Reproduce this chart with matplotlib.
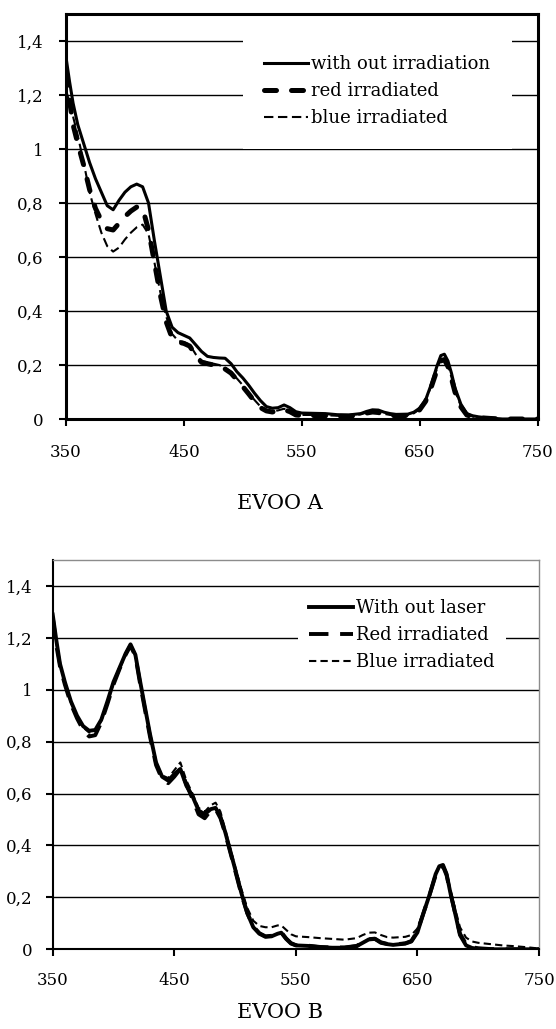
import matplotlib
matplotlib.use("Agg")
import matplotlib.pyplot as plt

plt.rcParams['font.family'] = ['DejaVu Serif']

# EVOO A spectra (absorbance vs wavelength, nm)
wl_a = [350, 353, 356, 360, 365, 370, 375, 380, 385, 390, 395, 400, 405, 410, 415,
        420, 425, 430, 435, 440, 445, 450, 455, 460, 465, 470, 475, 480, 485, 490,
        495, 500, 505, 510, 515, 520, 525, 530, 535, 540, 545, 550, 560, 570, 580,
        590, 600, 605, 610, 615, 620, 625, 630, 640, 645, 650, 655, 660, 665, 668,
        671, 674, 677, 680, 685, 690, 695, 700, 710, 720, 750]
a_none = [1.34, 1.25, 1.17, 1.09, 1.02, 0.95, 0.89, 0.84, 0.79, 0.775, 0.81, 0.84, 0.86, 0.87, 0.86,
          0.80, 0.66, 0.53, 0.40, 0.34, 0.32, 0.31, 0.30, 0.275, 0.25, 0.232, 0.228, 0.226, 0.225, 0.205,
          0.175, 0.152, 0.125, 0.095, 0.068, 0.046, 0.040, 0.042, 0.052, 0.042, 0.027, 0.022, 0.021, 0.020, 0.016,
          0.015, 0.020, 0.028, 0.034, 0.033, 0.025, 0.020, 0.017, 0.018, 0.025, 0.040, 0.070, 0.13, 0.20, 0.235,
          0.24, 0.215, 0.17, 0.115, 0.055, 0.020, 0.012, 0.008, 0.003, 0.0, 0.0]
a_red = [1.28, 1.18, 1.09, 1.02, 0.94, 0.85, 0.78, 0.735, 0.705, 0.70, 0.725, 0.75, 0.77, 0.785, 0.78,
         0.70, 0.58, 0.46, 0.36, 0.30, 0.285, 0.28, 0.27, 0.235, 0.21, 0.205, 0.20, 0.198, 0.185, 0.17,
         0.145, 0.12, 0.093, 0.065, 0.042, 0.030, 0.026, 0.030, 0.035, 0.027, 0.015, 0.013, 0.013, 0.012, 0.010,
         0.010, 0.015, 0.022, 0.026, 0.024, 0.017, 0.014, 0.012, 0.013, 0.020, 0.034, 0.065, 0.12, 0.185, 0.215,
         0.22, 0.195, 0.15, 0.10, 0.045, 0.015, 0.008, 0.005, 0.002, 0.0, 0.0]
a_blue = [1.22, 1.17, 1.12, 1.05, 0.95, 0.84, 0.76, 0.69, 0.64, 0.62, 0.635, 0.665, 0.69, 0.71, 0.72,
          0.685, 0.58, 0.47, 0.38, 0.315, 0.29, 0.285, 0.275, 0.24, 0.215, 0.21, 0.205, 0.20, 0.19, 0.175,
          0.15, 0.125, 0.097, 0.07, 0.046, 0.033, 0.028, 0.032, 0.038, 0.030, 0.017, 0.015, 0.015, 0.014, 0.012,
          0.012, 0.017, 0.024, 0.028, 0.026, 0.019, 0.015, 0.013, 0.014, 0.021, 0.036, 0.067, 0.125, 0.19, 0.22,
          0.225, 0.20, 0.155, 0.105, 0.048, 0.017, 0.009, 0.006, 0.002, 0.0, 0.0]

# EVOO B spectra
wl_b = [350, 353, 356, 360, 365, 370, 375, 380, 385, 390, 395, 400, 405, 410, 414,
        418, 422, 426, 430, 435, 440, 445, 450, 455, 460, 465, 470, 475, 480, 484,
        488, 492, 496, 500, 505, 510, 515, 520, 525, 530, 535, 538, 542, 546, 550,
        560, 570, 580, 590, 600, 605, 610, 615, 620, 625, 630, 640, 645, 650, 655,
        660, 665, 668, 671, 674, 677, 680, 685, 690, 695, 700, 710, 720, 730, 740, 750]
b_none = [1.29, 1.19, 1.10, 1.03, 0.955, 0.90, 0.86, 0.842, 0.845, 0.885, 0.955, 1.03, 1.085, 1.14, 1.175,
          1.135, 1.03, 0.93, 0.83, 0.72, 0.665, 0.65, 0.675, 0.695, 0.63, 0.59, 0.535, 0.52, 0.54, 0.545,
          0.51, 0.45, 0.38, 0.31, 0.22, 0.14, 0.085, 0.06, 0.048, 0.05, 0.06, 0.064, 0.04, 0.022, 0.015,
          0.013, 0.008, 0.006, 0.006, 0.012, 0.025, 0.038, 0.04, 0.025, 0.02, 0.017, 0.022, 0.03, 0.065, 0.14,
          0.21, 0.29, 0.32, 0.325, 0.29, 0.22, 0.16, 0.055, 0.015, 0.005, 0.002, 0.0, 0.0, 0.0, 0.0, 0.0]
b_red = [1.28, 1.17, 1.09, 1.02, 0.945, 0.89, 0.845, 0.82, 0.825, 0.875, 0.945, 1.02, 1.08, 1.135, 1.17,
         1.13, 1.02, 0.92, 0.82, 0.71, 0.655, 0.64, 0.665, 0.695, 0.635, 0.58, 0.52, 0.505, 0.535, 0.54,
         0.505, 0.445, 0.375, 0.305, 0.215, 0.14, 0.088, 0.062, 0.05, 0.052, 0.062, 0.066, 0.042, 0.024, 0.016,
         0.014, 0.009, 0.007, 0.007, 0.013, 0.026, 0.039, 0.041, 0.027, 0.021, 0.018, 0.023, 0.032, 0.07, 0.14,
         0.21, 0.285, 0.315, 0.32, 0.285, 0.22, 0.16, 0.06, 0.02, 0.008, 0.004, 0.001, 0.0, 0.0, 0.0, 0.0]
b_blue = [1.27, 1.18, 1.10, 1.03, 0.95, 0.895, 0.855, 0.835, 0.84, 0.88, 0.95, 1.025, 1.08, 1.135, 1.17,
          1.13, 1.03, 0.93, 0.83, 0.72, 0.67, 0.66, 0.69, 0.72, 0.65, 0.60, 0.545, 0.53, 0.555, 0.565,
          0.53, 0.46, 0.39, 0.32, 0.235, 0.16, 0.11, 0.09, 0.085, 0.085, 0.092, 0.092, 0.075, 0.058, 0.05,
          0.047, 0.043, 0.04, 0.037, 0.043, 0.055, 0.064, 0.065, 0.055, 0.047, 0.045, 0.048, 0.055, 0.08, 0.145,
          0.215, 0.29, 0.32, 0.325, 0.295, 0.235, 0.175, 0.085, 0.045, 0.03, 0.025, 0.02, 0.015, 0.012, 0.008, 0.003]

x_ticks = [350, 450, 550, 650, 750]
x_labels = ["350", "450", "550", "650", "750"]
y_ticks = [0, 0.2, 0.4, 0.6, 0.8, 1.0, 1.2, 1.4]
y_labels = ["0", "0,2", "0,4", "0,6", "0,8", "1", "1,2", "1,4"]

labels_a = ["with out irradiation", "red irradiated", "blue irradiated"]
labels_b = ["With out laser", "Red irradiated", "Blue irradiated"]

W, H = 556, 1029
fig = plt.figure(figsize=(W / 100, H / 100), dpi=100)


def style_axes(ax, xpad, ypad):
    ax.set_xlim(350, 750)
    ax.set_ylim(0, 1.5)
    ax.set_xticks(x_ticks)
    ax.set_xticklabels(x_labels)
    ax.set_yticks(y_ticks)
    ax.set_yticklabels(y_labels)
    ax.yaxis.grid(True, color="black", linewidth=1.0)
    ax.set_axisbelow(True)
    ax.tick_params(axis="both", direction="out", length=5, width=1.5,
                   labelsize=12, color="black")
    ax.tick_params(axis="x", pad=xpad)
    ax.tick_params(axis="y", pad=ypad)


# ---- top panel: EVOO A ----
ax1 = fig.add_axes([66 / W, 1 - 419 / H, 471.5 / W, 405 / H])
style_axes(ax1, 13, 11)
for sp in ax1.spines.values():
    sp.set_linewidth(2.2)
    sp.set_color("black")
ax1.plot(wl_a, a_none, color="black", lw=2.2, label=labels_a[0], zorder=4)
ax1.plot(wl_a, a_red, color="black", lw=3.6, dashes=(2.4, 3.0),
         dash_capstyle="round", label=labels_a[1], zorder=3)
ax1.plot(wl_a, a_blue, color="black", lw=1.5, dashes=(4.5, 2.2),
         label=labels_a[2], zorder=3)
leg1 = ax1.legend(loc="upper right", bbox_to_anchor=(0.965, 0.975), fontsize=13,
                  frameon=True, fancybox=False, framealpha=1, edgecolor="none",
                  borderpad=1.2, labelspacing=0.5, handlelength=2.4,
                  handletextpad=0.2)
fig.text(280 / W, 1 - 503 / H, "EVOO A", ha="center", va="center", fontsize=15)

# ---- bottom panel: EVOO B ----
ax2 = fig.add_axes([52.7 / W, 1 - 949.3 / H, 486.3 / W, 389.3 / H])
style_axes(ax2, 11, 9.5)
ax2.spines["left"].set_linewidth(1.5)
ax2.spines["bottom"].set_linewidth(1.5)
ax2.spines["top"].set_linewidth(1.0)
ax2.spines["right"].set_linewidth(1.0)
ax2.spines["top"].set_color("#8c8c8c")
ax2.spines["right"].set_color("#8c8c8c")
ax2.plot(wl_b, b_none, color="black", lw=2.8, label=labels_b[0], zorder=4)
ax2.plot(wl_b, b_red, color="black", lw=2.8, dashes=(5, 3),
         label=labels_b[1], zorder=3)
ax2.plot(wl_b, b_blue, color="black", lw=1.5, dashes=(3.5, 2),
         label=labels_b[2], zorder=3)
leg2 = ax2.legend(loc="upper right", bbox_to_anchor=(0.95, 0.95), fontsize=13,
                  frameon=True, fancybox=False, framealpha=1, edgecolor="none",
                  borderpad=0.6, labelspacing=0.5, handlelength=2.4,
                  handletextpad=0.2)
fig.text(280 / W, 1 - 1013 / H, "EVOO B", ha="center", va="center", fontsize=15)

fig.savefig("out.png", dpi=100)
